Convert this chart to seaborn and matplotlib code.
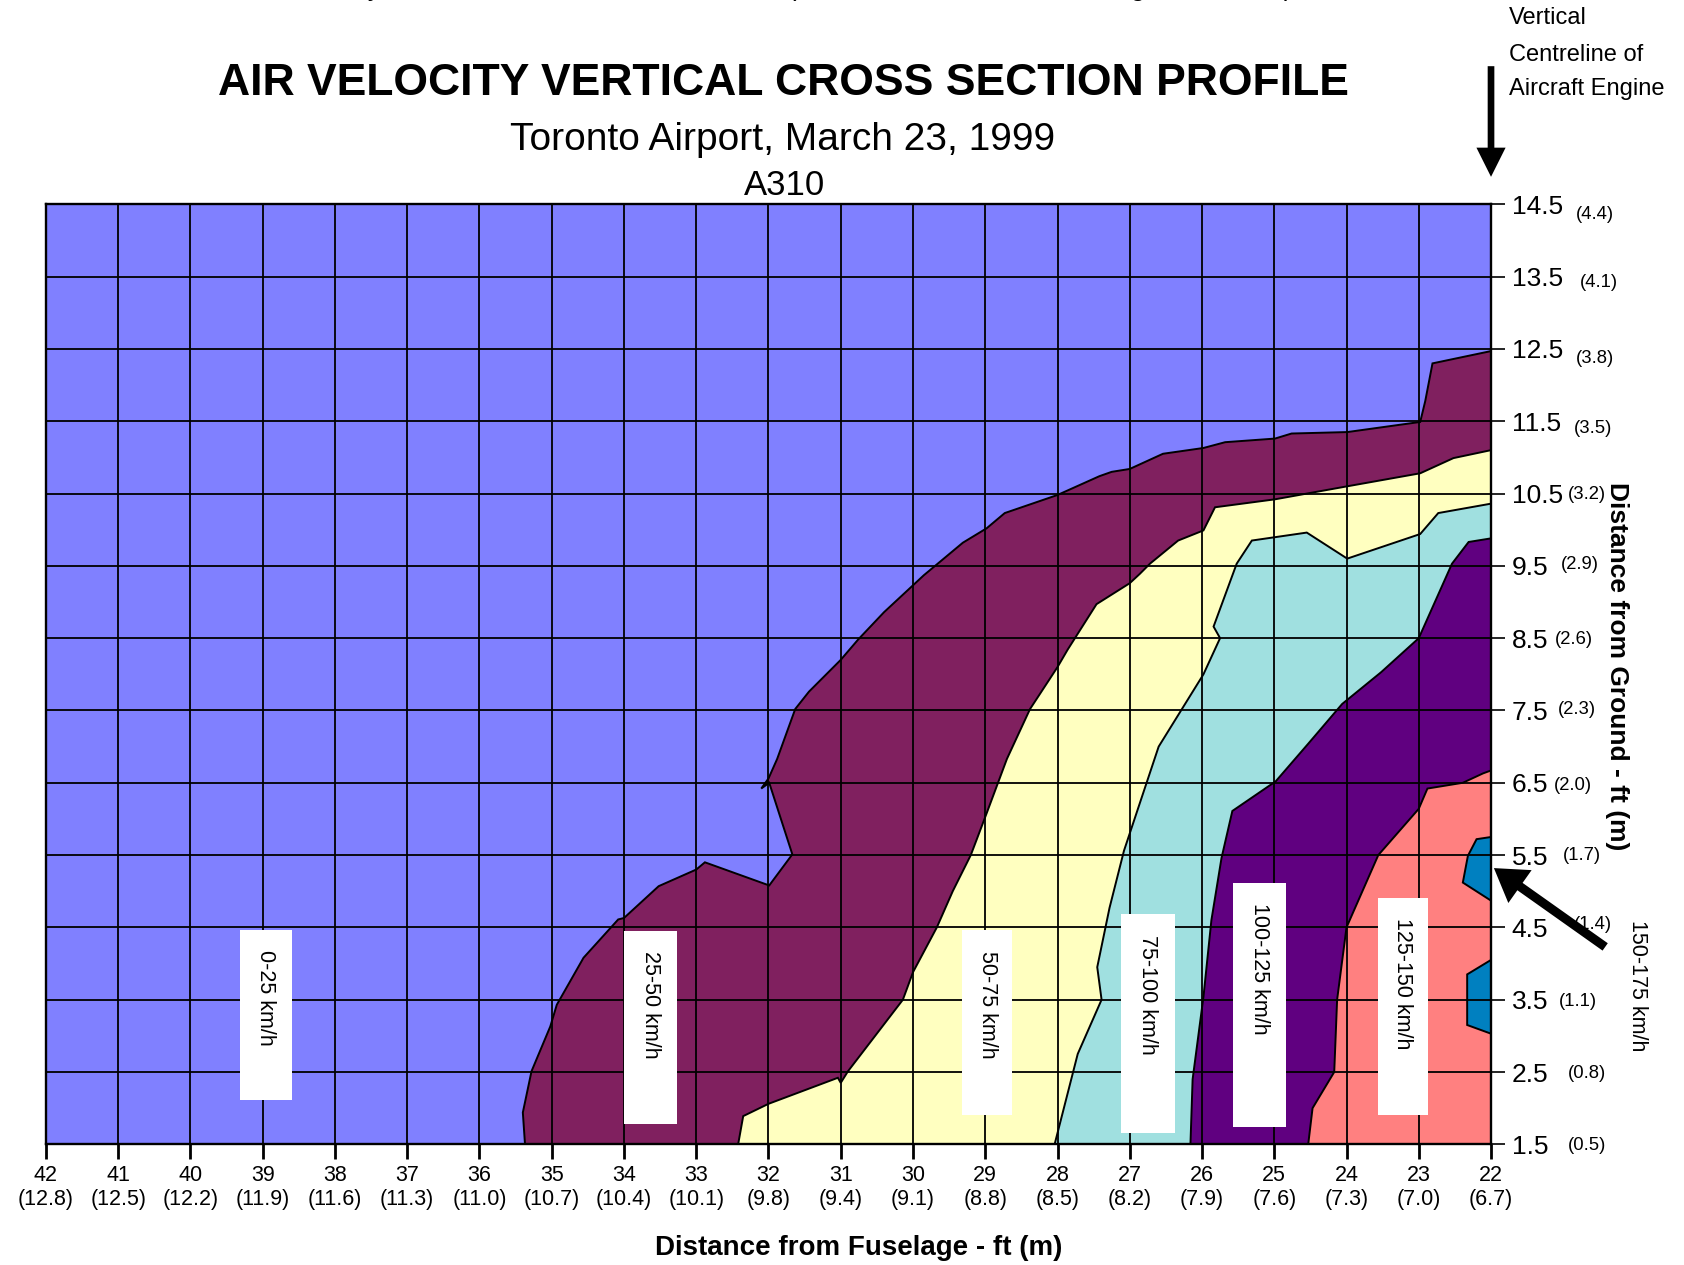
import seaborn as sns
from matplotlib import pyplot as plt
from matplotlib.patches import Rectangle

# axis values
dist_ft = [42, 41, 40, 39, 38, 37, 36, 35, 34, 33, 32, 31, 30, 29, 28, 27, 26, 25, 24, 23, 22]
dist_m = ['12.8', '12.5', '12.2', '11.9', '11.6', '11.3', '11.0', '10.7', '10.4', '10.1', '9.8',
          '9.4', '9.1', '8.8', '8.5', '8.2', '7.9', '7.6', '7.3', '7.0', '6.7']
height_ft = [14.5, 13.5, 12.5, 11.5, 10.5, 9.5, 8.5, 7.5, 6.5, 5.5, 4.5, 3.5, 2.5, 1.5]
height_m = ['4.4', '4.1', '3.8', '3.5', '3.2', '2.9', '2.6', '2.3', '2.0', '1.7', '1.4', '1.1', '0.8', '0.5']

band_names = ['0-25 km/h', '25-50 km/h', '50-75 km/h', '75-100 km/h', '100-125 km/h', '125-150 km/h', '150-175 km/h']
band_colors = ['#8080FF', '#80205F', '#FFFFC0', '#A0E0E0', '#600080', '#FF8080', '#0080C0']

# contour boundaries (ft from fuselage, ft above ground)
edge25_x = [35.37, 35.40, 35.28, 35.02, 34.93, 34.56, 34.08, 34.00, 33.52, 33.00, 32.88, 31.99, 31.67,
            31.99, 32.10, 32.00, 31.88, 31.63, 31.44, 31.00, 30.76, 30.40, 29.85, 29.31, 28.98, 28.73,
            28.00, 27.42, 27.25, 27.00, 26.54, 25.98, 25.68, 24.99, 24.76, 23.99, 22.98, 22.91, 22.81, 22.00]
edge25_y = [1.50, 1.94, 2.51, 3.13, 3.43, 4.08, 4.61, 4.63, 5.07, 5.30, 5.40, 5.08, 5.51,
            6.50, 6.42, 6.56, 6.83, 7.52, 7.76, 8.20, 8.48, 8.86, 9.37, 9.82, 10.02, 10.23,
            10.48, 10.74, 10.80, 10.84, 11.05, 11.13, 11.21, 11.26, 11.33, 11.35, 11.49, 11.78, 12.30, 12.47]

edge50_x = [32.42, 32.35, 32.00, 31.04, 31.00, 30.90, 30.14, 30.00, 29.67, 29.45, 29.20, 28.98, 28.70,
            28.38, 28.00, 27.86, 27.46, 27.00, 26.86, 26.72, 26.33, 25.98, 25.82, 24.99, 23.99, 22.98,
            22.52, 22.00]
edge50_y = [1.50, 1.89, 2.06, 2.42, 2.35, 2.51, 3.50, 3.88, 4.50, 5.00, 5.50, 6.08, 6.83,
            7.52, 8.10, 8.34, 8.97, 9.26, 9.39, 9.53, 9.85, 9.99, 10.31, 10.42, 10.60, 10.78,
            10.99, 11.10]

edge75_x = [28.04, 27.72, 27.39, 27.45, 27.28, 27.08, 27.00, 26.60, 25.98, 25.75, 25.84, 25.52, 25.31,
            24.55, 23.99, 22.98, 22.73, 22.00]
edge75_y = [1.50, 2.75, 3.50, 3.95, 4.77, 5.56, 5.80, 7.00, 8.00, 8.50, 8.66, 9.53, 9.85,
            9.96, 9.60, 9.94, 10.23, 10.36]

edge100_x = [26.16, 26.13, 25.98, 25.87, 25.73, 25.58, 24.98, 24.53, 24.06, 23.52, 23.00, 22.54, 22.31, 22.00]
edge100_y = [1.50, 2.40, 3.54, 4.60, 5.46, 6.11, 6.52, 7.04, 7.59, 8.03, 8.50, 9.53, 9.83, 9.88]

edge125_x = [24.53, 24.47, 24.17, 24.13, 24.00, 23.56, 23.00, 22.88, 22.39, 22.11, 22.00]
edge125_y = [1.50, 2.00, 2.50, 3.50, 4.50, 5.50, 6.14, 6.42, 6.50, 6.63, 6.67]

core150a_x = [22.00, 22.20, 22.32, 22.39, 22.00]
core150a_y = [5.75, 5.72, 5.49, 5.12, 4.87]
core150b_x = [22.00, 22.33, 22.33, 22.00]
core150b_y = [4.05, 3.85, 3.15, 3.03]

# label boxes: left, right, top, bottom (ft)
label_boxes = [(39.31, 38.60, 4.47, 2.11), (34.00, 33.27, 4.45, 1.78), (29.32, 28.63, 4.46, 1.91),
               (27.12, 26.38, 4.68, 1.66), (25.57, 24.84, 5.12, 1.74), (23.57, 22.87, 4.91, 1.91)]
# offsets of the metric labels on the right axis (points)
m_dx = [61, 64, 61, 60, 55, 50, 46, 48, 45, 52, 60, 49, 55, 55]
m_dy = [-7, -4, -7, -5, -1, 1, -1, 1, -2, 0, 2, -1, -1, -1]

sns.set_theme(style="white")
plt.rcParams['font.family'] = ['Liberation Sans', 'DejaVu Sans']
plt.rcParams['text.color'] = 'black'
plt.rcParams['axes.labelcolor'] = 'black'

fig = plt.figure(figsize=(16.84, 12.65), dpi=100)
ax = fig.add_axes([0.0273, 0.0954, 0.8581, 0.7431])
ax.set_facecolor(band_colors[0])

edges = [(edge25_x, edge25_y), (edge50_x, edge50_y), (edge75_x, edge75_y),
         (edge100_x, edge100_y), (edge125_x, edge125_y)]
for i, (ex, ey) in enumerate(edges):
    ax.fill(ex + [22.0], ey + [1.5], color=band_colors[i + 1], ec='black', lw=1.4, zorder=1)
for cx, cy in [(core150a_x, core150a_y), (core150b_x, core150b_y)]:
    ax.fill(cx, cy, color=band_colors[6], ec='black', lw=1.4, zorder=1)

ax.set_xlim(42, 22)
ax.set_ylim(1.5, 14.5)
ax.set_xticks(dist_ft)
ax.set_xticklabels([f"{f}\n({m})" for f, m in zip(dist_ft, dist_m)])
ax.set_yticks(height_ft)
ax.set_yticklabels([str(h) for h in height_ft])
ax.yaxis.tick_right()
ax.set_axisbelow(False)
ax.grid(True, color='black', lw=1.3)
ax.tick_params(axis='x', bottom=True, length=11, width=2, pad=4, labelsize=15.5, colors='black')
ax.tick_params(axis='y', right=True, left=False, length=10, width=1.2, pad=5, labelsize=19, colors='black')
for s in ax.spines.values():
    s.set_color('black')
    s.set_linewidth(1.7)
    s.set_zorder(5)

for h, m, dx, dy in zip(height_ft, height_m, m_dx, m_dy):
    ax.annotate(f"({m})", xy=(1, h), xycoords=('axes fraction', 'data'), xytext=(dx, dy),
                textcoords='offset points', fontsize=13.3, va='center', ha='left', annotation_clip=False)

for name, (x0, x1, yt, yb) in zip(band_names, label_boxes):
    ax.add_patch(Rectangle((x1, yb), x0 - x1, yt - yb, facecolor='white', edgecolor='none', zorder=3))
    ax.text((x0 + x1) / 2, yt - 0.28, name, rotation=-90, ha='center', va='top', fontsize=15.5, zorder=4)

# arrows
ax.annotate('', xy=(22.0, 14.88), xytext=(22.0, 16.41), annotation_clip=False,
            arrowprops=dict(arrowstyle='simple,head_length=2.1,head_width=2.1,tail_width=0.48',
                            mutation_scale=10, fc='black', ec='none', shrinkA=0, shrinkB=0))
ax.annotate('', xy=(21.96, 5.32), xytext=(20.42, 4.23), annotation_clip=False, zorder=6,
            arrowprops=dict(arrowstyle='simple,head_length=2.3,head_width=2.9,tail_width=0.65',
                            mutation_scale=10, fc='black', ec='none', shrinkA=0, shrinkB=0))

fig.text(0.465, 0.934, 'AIR VELOCITY VERTICAL CROSS SECTION PROFILE', ha='center', va='center',
         fontsize=32, fontweight='bold')
fig.text(0.465, 0.889, 'Toronto Airport, March 23, 1999', ha='center', va='center', fontsize=28)
fig.text(0.466, 0.853, 'A310', ha='center', va='center', fontsize=25)
fig.text(0.47, 1.003, 'Velocity Distribution at The Exhaust Plane (Short Distance From The Engine Exhaust)',
         ha='center', va='baseline', fontsize=19)
for yy, txt in zip([0.9855, 0.9565, 0.9297], ['Vertical', 'Centreline of', 'Aircraft Engine']):
    fig.text(0.896, yy, txt, ha='left', va='center', fontsize=17)
fig.text(0.510, 0.0134, 'Distance from Fuselage - ft (m)', ha='center', va='center', fontsize=20, fontweight='bold')
fig.text(0.960, 0.473, 'Distance from Ground - ft (m)', ha='center', va='center', rotation=-90,
         fontsize=19, fontweight='bold')
fig.text(0.9725, 0.221, band_names[6], ha='center', va='center', rotation=-90, fontsize=15.5)

fig.savefig('out.png', dpi=100)
